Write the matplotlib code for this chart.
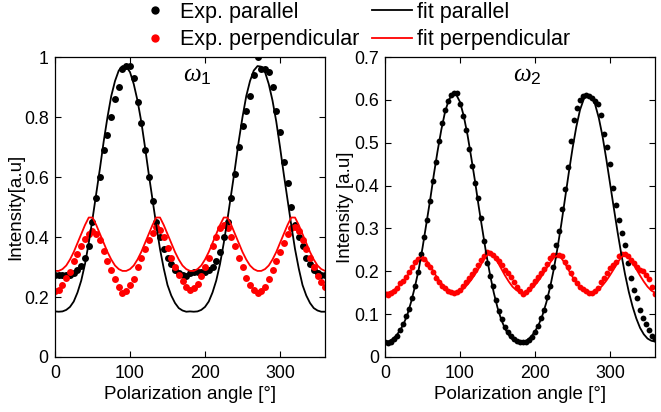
import numpy as np
import matplotlib
matplotlib.use("Agg")
import matplotlib.pyplot as plt
from matplotlib.lines import Line2D

plt.rcParams["font.family"] = ["Liberation Sans", "DejaVu Sans"]
plt.rcParams["mathtext.fontset"] = "custom"
plt.rcParams["mathtext.it"] = "Liberation Serif:italic"
plt.rcParams["mathtext.rm"] = "Liberation Sans"

# ---- data ----
# omega_1 (left panel), measured every 5 deg
angle_w1 = np.arange(0, 361, 5)
par_w1 = [
    0.275, 0.272, 0.272, 0.272, 0.275, 0.28, 0.29, 0.305, 0.33, 0.37,
    0.45, 0.53, 0.60, 0.69, 0.74, 0.80, 0.86, 0.90, 0.96, 0.97,
    0.97, 0.93, 0.85, 0.78, 0.69, 0.60, 0.52, 0.45, 0.40, 0.36,
    0.33, 0.31, 0.29, 0.28, 0.275, 0.27, 0.28, 0.285, 0.285, 0.285,
    0.285, 0.29, 0.30, 0.32, 0.35, 0.40, 0.45, 0.53, 0.61, 0.70,
    0.77, 0.82, 0.87, 0.94, 1.0, 0.96, 0.96, 0.95, 0.90, 0.82,
    0.75, 0.65, 0.58, 0.50, 0.44, 0.40, 0.37, 0.33, 0.31, 0.29,
    0.28, 0.275, 0.275,
]
perp_w1 = [
    0.22, 0.225, 0.24, 0.265, 0.285, 0.32, 0.345, 0.37, 0.395, 0.41,
    0.42, 0.41, 0.39, 0.355, 0.32, 0.29, 0.26, 0.235, 0.215, 0.22,
    0.24, 0.26, 0.30, 0.33, 0.36, 0.39, 0.415, 0.435, 0.425, 0.40,
    0.365, 0.33, 0.30, 0.275, 0.255, 0.235, 0.225, 0.23, 0.245, 0.27,
    0.30, 0.33, 0.37, 0.40, 0.43, 0.44, 0.43, 0.40, 0.37, 0.33,
    0.30, 0.265, 0.24, 0.225, 0.215, 0.22, 0.235, 0.26, 0.29, 0.32,
    0.35, 0.38, 0.41, 0.43, 0.435, 0.42, 0.39, 0.36, 0.33, 0.30,
    0.27, 0.25, 0.235,
]
fit_angle = np.arange(0, 361, 5)
fit_par_w1 = [
    0.152, 0.151, 0.152, 0.157, 0.167, 0.185, 0.215, 0.255, 0.31, 0.38,
    0.46, 0.545, 0.63, 0.72, 0.80, 0.87, 0.92, 0.955, 0.97, 0.968,
    0.95, 0.91, 0.855, 0.785, 0.70, 0.61, 0.525, 0.44, 0.36, 0.295,
    0.24, 0.205, 0.18, 0.163, 0.155, 0.151, 0.152, 0.151, 0.152, 0.157,
    0.167, 0.185, 0.215, 0.255, 0.31, 0.38, 0.46, 0.545, 0.63, 0.72,
    0.80, 0.87, 0.92, 0.955, 0.97, 0.968, 0.95, 0.91, 0.855, 0.785,
    0.70, 0.61, 0.525, 0.44, 0.36, 0.295, 0.24, 0.205, 0.18, 0.163,
    0.155, 0.151, 0.151,
]
fit_perp_w1 = [
    0.287, 0.287, 0.293, 0.305, 0.325, 0.35, 0.38, 0.41, 0.44, 0.465,
    0.465, 0.44, 0.41, 0.38, 0.35, 0.325, 0.305, 0.293, 0.287, 0.287,
    0.293, 0.305, 0.325, 0.35, 0.38, 0.41, 0.44, 0.465, 0.465, 0.44,
    0.41, 0.38, 0.35, 0.325, 0.305, 0.293, 0.287, 0.287, 0.293, 0.305,
    0.325, 0.35, 0.38, 0.41, 0.44, 0.465, 0.465, 0.44, 0.41, 0.38,
    0.35, 0.325, 0.305, 0.293, 0.287, 0.287, 0.293, 0.305, 0.325, 0.35,
    0.38, 0.41, 0.44, 0.465, 0.465, 0.44, 0.41, 0.38, 0.35, 0.325,
    0.305, 0.293, 0.287,
]

# omega_2 (right panel), measured every 4 deg
angle_w2 = np.arange(0, 361, 4)
par_w2 = [
    0.035, 0.032, 0.035, 0.042, 0.05, 0.062, 0.077, 0.095, 0.113, 0.137,
    0.165, 0.198, 0.24, 0.28, 0.32, 0.365, 0.41, 0.455, 0.505, 0.545,
    0.576, 0.598, 0.612, 0.617, 0.615, 0.59, 0.562, 0.53, 0.485, 0.445,
    0.405, 0.37, 0.325, 0.27, 0.22, 0.19, 0.165, 0.132, 0.108, 0.088,
    0.07, 0.058, 0.048, 0.042, 0.038, 0.036, 0.035, 0.036, 0.04, 0.047,
    0.058, 0.072, 0.09, 0.11, 0.14, 0.166, 0.21, 0.262, 0.295, 0.345,
    0.392, 0.444, 0.505, 0.552, 0.582, 0.60, 0.61, 0.612, 0.61, 0.605,
    0.598, 0.59, 0.565, 0.52, 0.49, 0.45, 0.395, 0.355, 0.32, 0.29,
    0.262, 0.22, 0.185, 0.156, 0.138, 0.11, 0.092, 0.078, 0.062, 0.05,
    0.042,
]
perp_w2 = [
    0.147, 0.145, 0.15, 0.155, 0.16, 0.172, 0.178, 0.186, 0.198, 0.21,
    0.222, 0.228, 0.232, 0.228, 0.218, 0.21, 0.198, 0.185, 0.174, 0.166,
    0.16, 0.155, 0.151, 0.149, 0.151, 0.156, 0.165, 0.175, 0.185, 0.194,
    0.203, 0.215, 0.226, 0.236, 0.245, 0.243, 0.238, 0.232, 0.224, 0.214,
    0.204, 0.195, 0.186, 0.175, 0.163, 0.153, 0.148, 0.152, 0.158, 0.168,
    0.178, 0.187, 0.196, 0.206, 0.216, 0.23, 0.237, 0.238, 0.238, 0.236,
    0.222, 0.21, 0.196, 0.183, 0.172, 0.164, 0.158, 0.153, 0.149, 0.15,
    0.153, 0.162, 0.175, 0.185, 0.197, 0.207, 0.214, 0.222, 0.236, 0.24,
    0.241, 0.235, 0.226, 0.219, 0.21, 0.203, 0.2, 0.192, 0.182, 0.164,
    0.146,
]
fit_par_w2 = [
    0.036, 0.037, 0.042, 0.05, 0.062, 0.078, 0.1, 0.13, 0.165, 0.205,
    0.255, 0.31, 0.365, 0.425, 0.48, 0.53, 0.572, 0.6, 0.613, 0.612,
    0.595, 0.562, 0.518, 0.465, 0.41, 0.35, 0.295, 0.24, 0.192, 0.15,
    0.115, 0.087, 0.066, 0.051, 0.041, 0.036, 0.035, 0.036, 0.04, 0.048,
    0.06, 0.076, 0.098, 0.127, 0.162, 0.205, 0.255, 0.31, 0.37, 0.43,
    0.487, 0.537, 0.577, 0.602, 0.612, 0.608, 0.59, 0.558, 0.515, 0.462,
    0.405, 0.348, 0.292, 0.24, 0.193, 0.152, 0.118, 0.09, 0.068, 0.053,
    0.043, 0.038, 0.036,
]
fit_perp_w2 = [
    0.15, 0.151, 0.154, 0.16, 0.168, 0.178, 0.19, 0.203, 0.217, 0.228,
    0.232, 0.226, 0.213, 0.198, 0.184, 0.172, 0.162, 0.155, 0.151, 0.151,
    0.154, 0.16, 0.169, 0.18, 0.193, 0.207, 0.222, 0.236, 0.242, 0.236,
    0.222, 0.206, 0.19, 0.176, 0.164, 0.156, 0.151, 0.15, 0.153, 0.159,
    0.168, 0.179, 0.192, 0.206, 0.22, 0.232, 0.237, 0.231, 0.218, 0.202,
    0.187, 0.174, 0.163, 0.155, 0.15, 0.149, 0.152, 0.158, 0.167, 0.178,
    0.191, 0.205, 0.22, 0.233, 0.24, 0.234, 0.22, 0.205, 0.19, 0.176,
    0.164, 0.155, 0.15,
]

x_ticks = [0, 100, 200, 300]
y_ticks_w1 = [0, 0.2, 0.4, 0.6, 0.8, 1]
y_labels_w1 = ["0", "0.2", "0.4", "0.6", "0.8", "1"]
y_ticks_w2 = [0, 0.1, 0.2, 0.3, 0.4, 0.5, 0.6, 0.7]
y_labels_w2 = ["0", "0.1", "0.2", "0.3", "0.4", "0.5", "0.6", "0.7"]


def style_axes(ax, yticks, ylabels, ylim, ylabel):
    ax.set_xlim(0, 360)
    ax.set_ylim(*ylim)
    ax.set_xticks(x_ticks)
    ax.set_xticklabels([str(t) for t in x_ticks])
    ax.set_yticks(yticks)
    ax.set_yticklabels(ylabels)
    ax.tick_params(direction="in", top=True, right=True, length=4,
                   width=0.8, labelsize=12.8)
    ax.tick_params(axis="x", pad=6)
    ax.tick_params(axis="y", pad=4.5)
    for s in ax.spines.values():
        s.set_linewidth(0.9)
    ax.set_xlabel("Polarization angle [°]", fontsize=13.5, labelpad=3)
    ax.set_ylabel(ylabel, fontsize=13.5, labelpad=0)


def draw_panel(ax, ang, par, perp, fpar, fperp, ms):
    ax.plot(ang, par, "o", color="black", ms=ms, mec="none")
    ax.plot(ang, perp, "o", color="red", ms=ms, mec="none")
    ax.plot(fit_angle, fpar, "-", color="black", lw=1.3)
    ax.plot(fit_angle, fperp, "-", color="red", lw=1.3)


def main():
    fig = plt.figure(figsize=(6.61, 4.12), dpi=100)
    ax1 = fig.add_axes([0.0832, 0.1335, 0.4085, 0.728])
    ax2 = fig.add_axes([0.5825, 0.1335, 0.4085, 0.728])

    draw_panel(ax1, angle_w1, par_w1, perp_w1, fit_par_w1, fit_perp_w1, 5)
    draw_panel(ax2, angle_w2, par_w2, perp_w2, fit_par_w2, fit_perp_w2, 4.2)

    style_axes(ax1, y_ticks_w1, y_labels_w1, (0, 1), "Intensity[a.u]")
    style_axes(ax2, y_ticks_w2, y_labels_w2, (0, 0.7), "Intensity [a.u]")

    ax1.text(190, 0.94, r"$\omega_1$", fontsize=18, ha="center", va="center")
    ax2.text(190, 0.658, r"$\omega_2$", fontsize=18, ha="center", va="center")

    handles = [
        Line2D([], [], ls="none", marker="o", color="black", ms=6, mec="none"),
        Line2D([], [], ls="none", marker="o", color="red", ms=6, mec="none"),
        Line2D([], [], color="black", lw=1.3),
        Line2D([], [], color="red", lw=1.3),
    ]
    labels = ["Exp. parallel", "Exp. perpendicular", "fit parallel",
              "fit perpendicular"]
    fig.legend(handles, labels, ncol=2, loc="upper left",
               bbox_to_anchor=(135 / 661, 1 - 2 / 412), frameon=False,
               fontsize=15.5, borderpad=0, borderaxespad=0,
               handlelength=1.86, handletextpad=0.23, columnspacing=0.6,
               labelspacing=0.3)

    fig.savefig("out.png", dpi=100)


if __name__ == "__main__":
    main()
